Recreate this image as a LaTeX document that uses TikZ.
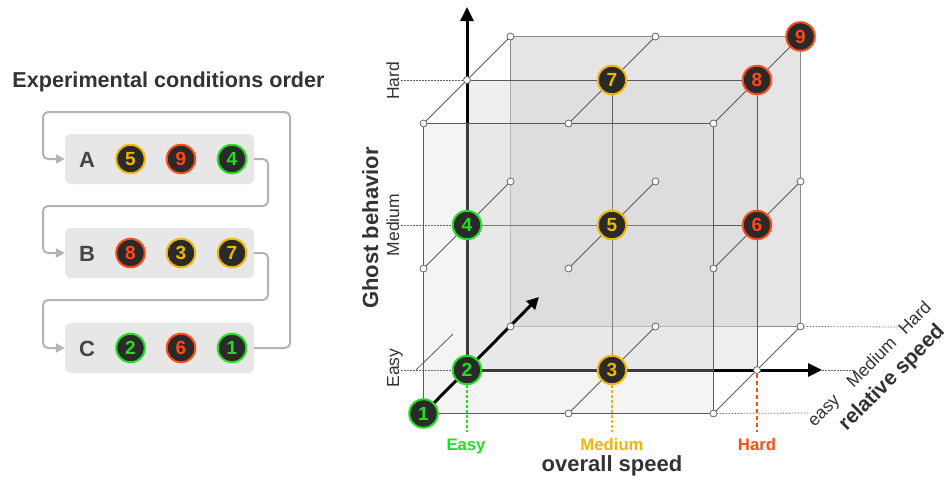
\documentclass[tikz,border=0pt]{standalone}
\usepackage{fontspec}
\setmainfont{Liberation Sans}
\usetikzlibrary{arrows.meta}
\definecolor{cgreen}{HTML}{22DD22}
\definecolor{camber}{HTML}{F2B600}
\definecolor{cred}{HTML}{FF4A14}
\definecolor{nodebg}{HTML}{2A2A2A}
\definecolor{txt}{HTML}{333333}
\definecolor{boxbg}{HTML}{E7E7E7}
\definecolor{connc}{HTML}{B3B3B3}
\definecolor{edgec}{HTML}{5A5A5A}
\definecolor{backc}{HTML}{E5E5E5}
\definecolor{midc}{HTML}{D9D9D9}
\definecolor{frontc}{HTML}{D8D8D8}
\begin{document}
\begin{tikzpicture}[x=1pt,y=-1pt,
  cnum/.style={circle, draw=#1, line width=2pt, fill=nodebg, text=#1,
    font=\bfseries\fontsize{19}{19}\selectfont, minimum size=28.5pt, inner sep=0pt},
  panelbox/.style={rectangle, rounded corners=6pt, fill=boxbg, minimum width=189pt, minimum height=50pt, inner sep=0pt},
  rowlabel/.style={font=\bfseries\fontsize{22}{22}\selectfont, text=black!73, anchor=base},
  connline/.style={draw=connc, line width=2pt, rounded corners=5pt, -{Triangle[length=9pt,width=9pt]}},
  gridline/.style={draw=edgec, line width=0.9pt},
  backline/.style={draw=black!45, line width=1.3pt},
  axisline/.style={draw=black, line width=3pt, -{Triangle[length=14pt,width=13pt]}},
  dotline/.style={draw=black!60, line width=0.8pt, dash pattern=on 1.5pt off 1.5pt},
  gridpt/.style={circle, draw=black!60, fill=white, line width=0.8pt, minimum size=7pt, inner sep=0pt},
  smalllab/.style={font=\fontsize{17.5}{17.5}\selectfont, text=txt},
  biglab/.style={font=\bfseries\fontsize{22}{22}\selectfont, text=txt},
  levlab/.style={font=\bfseries\fontsize{16.7}{16.7}\selectfont, anchor=base},
]
\useasboundingbox (0,0) rectangle (946,477);

% ---------------- left panel ----------------
\node[font=\bfseries\fontsize{21.6}{21.6}\selectfont, text=txt, anchor=base] (title) at (168.5,87) {Experimental conditions order};

\node[panelbox] (boxA) at (159.5,159) {};
\node[panelbox] (boxB) at (159.5,253) {};
\node[panelbox] (boxC) at (159.5,348) {};

\node[rowlabel] (labA) at (87,167) {A};
\node[rowlabel] (labB) at (87,261) {B};
\node[rowlabel] (labC) at (87,356) {C};

\node[cnum=camber] (a1) at (130.5,159) {5};
\node[cnum=cred]   (a2) at (181,159) {9};
\node[cnum=cgreen] (a3) at (232,159) {4};
\node[cnum=cred]   (b1) at (130.5,253) {8};
\node[cnum=camber] (b2) at (181,253) {3};
\node[cnum=camber] (b3) at (232,253) {7};
\node[cnum=cgreen] (c1) at (130.5,348) {2};
\node[cnum=cred]   (c2) at (181,348) {6};
\node[cnum=cgreen] (c3) at (232,348) {1};

\draw[connline] (boxA.east) -- (268,159) -- (268,206) -- (43,206) -- (43,253) -- (boxB.west);
\draw[connline] (boxB.east) -- (268,253) -- (268,300) -- (43,300) -- (43,348) -- (boxC.west);
\draw[connline] (boxC.east) -- (290,348) -- (290,112) -- (43,112) -- (43,159) -- (boxA.west);

% ---------------- cube ----------------
\foreach \i in {0,1,2}{
  \foreach \j in {0,1,2}{
    \foreach \k in {0,1,2}{
      \coordinate (g\i\j\k) at ({467+145*\i+43.5*(\k-1)},{370-145*\j-43.5*(\k-1)});
    }
  }
}
\coordinate (yTip) at (467,7);
\coordinate (xTip) at (822,370);
\coordinate (zTip) at (539,297);

% back layer
\fill[backc] (g002) rectangle (g222);
\draw[backline] (g002) rectangle (g222);
% middle layer
\fill[midc, fill opacity=0.42] (g001) rectangle (g221);
\draw[gridline] (g021) -- (g221);
\draw[gridline] (g011) -- (g211);
\draw[gridline] (g101) -- (g121);
\draw[gridline] (g201) -- (g221);
\draw[axisline] (g001) -- (yTip);
\draw[axisline] (g001) -- (xTip);
% front layer
\fill[frontc, fill opacity=0.28] (g000) rectangle (g220);
\draw[gridline] (g000) rectangle (g220);

% depth lines
\foreach \i/\j in {1/0,2/0,0/1,1/1,2/1,0/2,1/2,2/2}{
  \draw[gridline, line width=0.8pt] (g\i\j0) -- (g\i\j2);
}
\coordinate (s1) at (416,370);
\coordinate (s2) at (453,334);
\draw[gridline, line width=0.8pt] (s1) -- (s2);

% depth axis
\draw[draw=black, line width=3pt, -{Triangle[length=12pt,width=12pt]}] (g000) -- (zTip);

% dotted guide lines
\coordinate (hY) at (401,80);
\coordinate (mY) at (401,225);
\coordinate (eY) at (401,370);
\draw[dotline] (hY) -- (g021);
\draw[dotline] (mY) -- (g011);
\draw[dotline] (eY) -- (g001);
\coordinate (hR) at (903,327);
\coordinate (mR) at (855,370);
\coordinate (eR) at (810,413);
\draw[dotline] (g202) -- (hR);
\draw[dotline] (xTip) -- (mR);
\draw[dotline] (g200) -- (eR);

% grid points
\foreach \p in {g100,g200,g010,g110,g210,g020,g120,g220,g201,g021,g002,g102,g202,g012,g112,g212,g022,g122}{
  \node[gridpt] (pt-\p) at (\p) {};
}

% condition nodes
\node[cnum=cgreen] (n1) at (g000) {1};
\node[cnum=cgreen] (n2) at (g001) {2};
\node[cnum=camber] (n3) at (g101) {3};
\node[cnum=cgreen] (n4) at (g011) {4};
\node[cnum=camber] (n5) at (g111) {5};
\node[cnum=cred]   (n6) at (g211) {6};
\node[cnum=camber] (n7) at (g121) {7};
\node[cnum=cred]   (n8) at (g221) {8};
\node[cnum=cred]   (n9) at (g222) {9};

% coloured level ticks
\coordinate (eD) at (467,432);
\coordinate (mD) at (612,432);
\coordinate (hD) at (757,432);
\draw[cgreen, line width=1.2pt, dash pattern=on 3pt off 2pt] (n2.south) -- (eD);
\draw[camber, line width=1.2pt, dash pattern=on 3pt off 2pt] (n3.south) -- (mD);
\draw[cred, line width=1.5pt, dash pattern=on 4pt off 3pt] (pt-g201.south) -- (hD);

% labels
\node[levlab, text=cgreen] (lE) at (466,450) {Easy};
\node[levlab, text=camber] (lM) at (612,450) {Medium};
\node[levlab, text=cred]   (lH) at (757,450) {Hard};
\node[biglab, anchor=base] (xl) at (612,471) {overall speed};

\node[smalllab, anchor=base, rotate=90] (yH) at (399,81) {Hard};
\node[smalllab, anchor=base, rotate=90] (yM) at (399,225) {Medium};
\node[smalllab, anchor=base, rotate=90] (yE) at (399,368) {Easy};
\node[biglab, anchor=base, rotate=90] (yl) at (378,228) {Ghost behavior};

\node[smalllab, anchor=base west, rotate=45] (rE) at (812,430) {easy};
\node[smalllab, anchor=base west, rotate=45] (rM) at (851,391) {Medium};
\node[smalllab, anchor=base west, rotate=45] (rH) at (903,338) {Hard};
\node[biglab, font=\bfseries\fontsize{21}{21}\selectfont, anchor=base west, rotate=45] (rl) at (844,434) {relative speed};
\end{tikzpicture}
\end{document}
